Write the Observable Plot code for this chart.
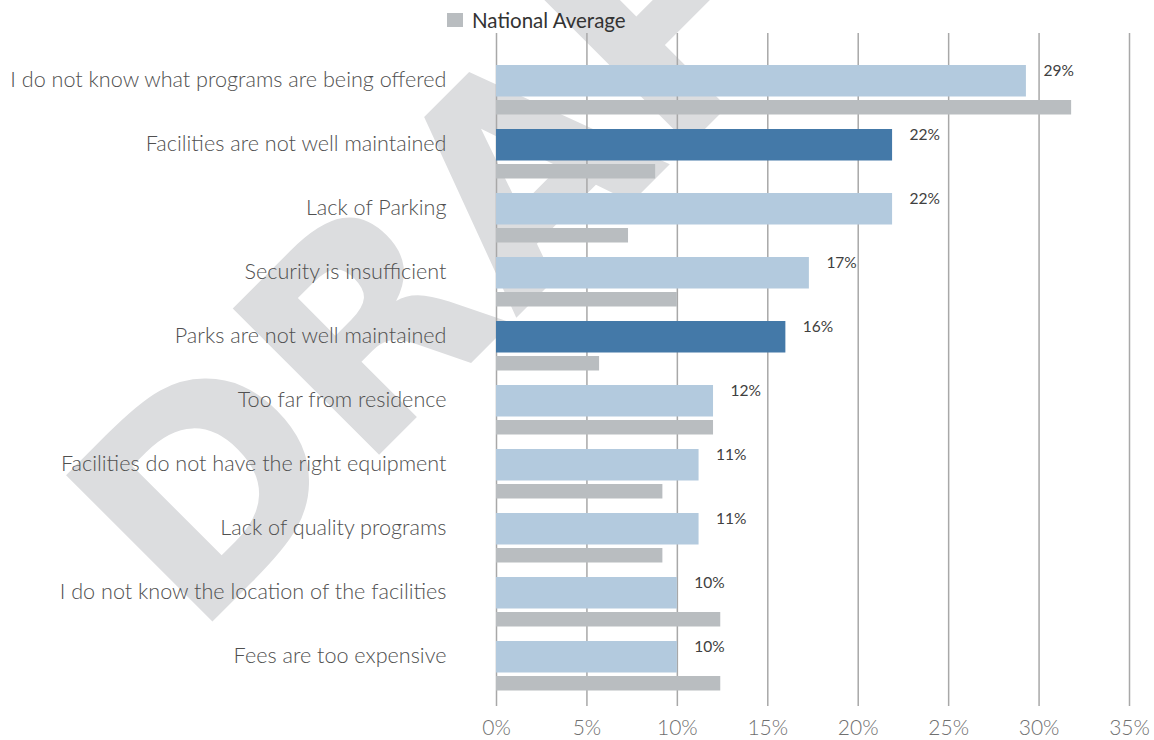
<!DOCTYPE html>
<html>
<head>
<meta charset="utf-8">
<script src="https://cdn.jsdelivr.net/npm/d3@7"></script>
<script src="https://cdn.jsdelivr.net/npm/@observablehq/plot@0.6"></script>
<style>
  html, body { margin: 0; padding: 0; background: #ffffff; }
  #wrap { position: relative; width: 1154px; height: 740px; overflow: hidden; font-family: Lato, "Open Sans", sans-serif; }
  #watermark { position: absolute; left: 0; top: 0; z-index: 0; }
  #legend { position: absolute; left: 0; top: 0; width: 1154px; height: 30px; z-index: 1; }
  #legend .sw { position: absolute; left: 447px; top: 13px; width: 16px; height: 14px; background: #b9bdc0; }
  #legend .lbl { position: absolute; left: 472px; top: 7px; font-size: 20.5px; line-height: 26px; color: #333333; font-weight: 400; }
  #chart { position: absolute; left: 0; top: 30px; z-index: 1; }
</style>
</head>
<body>
<div id="wrap">
  <div id="watermark"></div>
  <div id="legend"><div class="sw"></div><div class="lbl">National Average</div></div>
  <div id="chart"></div>
</div>
<script>
// ---- data ----
const categories = [
  "I do not know what programs are being offered",
  "Facilities are not well maintained",
  "Lack of Parking",
  "Security is insufficient",
  "Parks are not well maintained",
  "Too far from residence",
  "Facilities do not have the right equipment",
  "Lack of quality programs",
  "I do not know the location of the facilities",
  "Fees are too expensive"
];
const values = [29.3, 21.9, 21.9, 17.3, 16.0, 12.0, 11.2, 11.2, 10.0, 10.0];
const valueLabels = ["29%", "22%", "22%", "17%", "16%", "12%", "11%", "11%", "10%", "10%"];
const nationalAverage = [31.8, 8.8, 7.3, 10.0, 5.7, 12.0, 9.2, 9.2, 12.4, 12.4];
const highlighted = ["Facilities are not well maintained", "Parks are not well maintained"];
const xTicks = [0, 5, 10, 15, 20, 25, 30, 35];
const watermarkText = "DRAFT";

const rows = categories.map((c, i) => ({
  category: c,
  value: values[i],
  label: valueLabels[i],
  national: nationalAverage[i],
  group: highlighted.includes(c) ? "highlight" : "normal"
}));

// ---- watermark (behind everything) ----
const wm = d3.select("#watermark").append("svg")
  .attr("width", 1154).attr("height", 740);
wm.append("text")
  .attr("x", 0).attr("y", 0)
  .attr("transform", "translate(194,640) rotate(-45)")
  .attr("font-family", "DejaVu Sans, sans-serif")
  .attr("font-weight", "bold")
  .attr("font-size", 284)
  .attr("fill", "#dcdddf")
  .text(watermarkText);

// ---- chart ----
const chart = Plot.plot({
  width: 1154,
  height: 710,
  marginLeft: 496,
  marginRight: 25,
  marginTop: 23,
  marginBottom: 38.3,
  style: { background: "transparent", fontFamily: "Lato, sans-serif" },
  x: { domain: [0, 35], ticks: xTicks, tickFormat: d => d + "%" },
  y: { domain: categories, padding: 0 },
  color: { domain: ["normal", "highlight"], range: ["#b3cade", "#4479a8"] },
  marks: [
    Plot.ruleX(xTicks, { stroke: "#a8a8a8", strokeWidth: 1.5, insetTop: -20, insetBottom: -4.3 }),
    Plot.barX(rows, { x: "value", y: "category", fill: "group", insetTop: 8, insetBottom: 24.5 }),
    Plot.barX(rows, { x: "national", y: "category", fill: "#b9bdc0", insetTop: 43, insetBottom: 6.5 }),
    Plot.text(rows, { x: "value", y: "category", text: "label", dx: 17, dy: -18, textAnchor: "start", fontSize: 15.5, fill: "#404040" }),
    Plot.axisY({ tickSize: 0, tickPadding: 50, dy: -9.5, fontSize: 21.6, fontWeight: 300, fill: "#505050", label: null }),
    Plot.axisX({ ticks: xTicks, tickFormat: d => d + "%", tickSize: 0, tickPadding: 18, fontSize: 21, fontWeight: 300, fill: "#707070", label: null })
  ]
});
document.getElementById("chart").appendChild(chart);
</script>
</body>
</html>
